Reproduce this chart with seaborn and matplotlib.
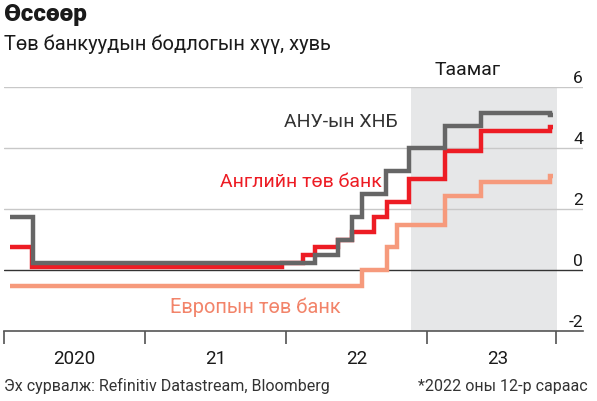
import pandas as pd
import matplotlib
matplotlib.use("Agg")
import matplotlib.pyplot as plt
import seaborn as sns

# Fed, Bank of England and ECB policy rates (steps)
fed_dates = ["2020-01-16", "2020-03-16", "2022-03-17", "2022-05-15", "2022-06-21",
             "2022-07-16", "2022-09-16", "2022-11-15", "2023-02-16", "2023-05-20",
             "2023-11-14", "2023-11-23"]
fed_rates = [1.75, 0.25, 0.5, 1.0, 1.75, 2.5, 3.25, 4.0, 4.72, 5.17, 5.1, 5.1]

boe_dates = ["2020-01-16", "2020-03-13", "2021-12-20", "2022-02-14", "2022-03-17",
             "2022-05-15", "2022-06-21", "2022-08-16", "2022-09-19", "2022-11-15",
             "2023-02-16", "2023-05-20", "2023-11-14", "2023-11-23"]
boe_rates = [0.75, 0.1, 0.25, 0.5, 0.75, 1.0, 1.25, 1.75, 2.25, 3.0, 3.9, 4.56, 4.7, 4.7]

ecb_dates = ["2020-01-16", "2022-07-16", "2022-09-19", "2022-10-15", "2023-02-16",
             "2023-05-20", "2023-11-14", "2023-11-23"]
ecb_rates = [-0.5, 0.0, 0.75, 1.5, 2.42, 2.9, 3.1, 3.1]

banks = ["Европын төв банк", "Английн төв банк", "АНУ-ын ХНБ"]
colors = {"АНУ-ын ХНБ": "#666666", "Английн төв банк": "#ed1c24", "Европын төв банк": "#f69a7c"}

year_labels = ["2020", "21", "22", "23"]
year_ticks = ["2020-01-01", "2021-01-01", "2022-01-01", "2023-01-01", "2023-12-01"]
y_labels = [6, 4, 2, 0, -2]
forecast_start, forecast_end = "2022-11-19", "2023-12-02"

rows = []
for name, dates, rates in [("АНУ-ын ХНБ", fed_dates, fed_rates),
                           ("Английн төв банк", boe_dates, boe_rates),
                           ("Европын төв банк", ecb_dates, ecb_rates)]:
    for d, r in zip(dates, rates):
        rows.append({"date": pd.Timestamp(d), "rate": r, "bank": name})
df = pd.DataFrame(rows)

sns.set_style("white")
plt.rcParams["font.family"] = ["Roboto", "DejaVu Sans"]

fig = plt.figure(figsize=(5.97, 4.02), dpi=100)
ax = fig.add_axes([4 / 597, 1 - 332.3 / 402, 579 / 597, 244 / 402])

# forecast shading, grid, zero line
ax.axvspan(pd.Timestamp(forecast_start), pd.Timestamp(forecast_end), color="#e6e7e8", lw=0, zorder=0)
for v in [2, 4, 6]:
    ax.axhline(v, color="#c8c8c8", lw=1, zorder=1)
ax.axhline(0, color="#333333", lw=1, zorder=1.5)

sns.lineplot(data=df, x="date", y="rate", hue="bank", hue_order=banks, palette=colors,
             linewidth=3.2, drawstyle="steps-post", legend=False, ax=ax, zorder=3,
             solid_capstyle="butt", solid_joinstyle="miter")

ax.set_xlim(pd.Timestamp("2020-01-01"), pd.Timestamp("2024-02-08"))
ax.set_ylim(-2, 6)
ax.set_xlabel("")
ax.set_ylabel("")
ax.set_yticks([])

ax.set_xticks([pd.Timestamp(t) for t in year_ticks])
ax.set_xticklabels([])
mids = [pd.Timestamp(f"20{y[-2:]}-07-02") for y in year_labels]
ax.set_xticks(mids, minor=True)
ax.set_xticklabels(year_labels, minor=True)
ax.tick_params(axis="x", which="major", direction="out", length=9.5, width=1.1,
               color="#444444", bottom=True)
ax.tick_params(axis="x", which="minor", length=0, pad=12.5, labelsize=13.5,
               labelcolor="#1a1a1a")

for s in ["top", "right", "left"]:
    ax.spines[s].set_visible(False)
ax.spines["bottom"].set_color("#555555")
ax.spines["bottom"].set_linewidth(1.2)

for v in y_labels:
    ax.annotate(str(v), xy=(1, v), xycoords=("axes fraction", "data"),
                xytext=(0, 3.5), textcoords="offset points",
                ha="right", va="baseline", fontsize=12.5, color="#1a1a1a")

# series labels
ax.text(pd.Timestamp("2022-10-17"), 4.73, "АНУ-ын ХНБ", ha="right", va="baseline",
        fontsize=14, color="#333333")
ax.text(pd.Timestamp("2022-09-05"), 2.76, "Английн төв банк", ha="right", va="baseline",
        fontsize=14, color="#ed1c24")
ax.text(pd.Timestamp("2021-03-06"), -1.38, "Европын төв банк", ha="left", va="baseline",
        fontsize=14.4, color="#f2846a")

fig.text(467.5 / 597, 1 - 75 / 402, "Таамаг", ha="center", va="baseline",
         fontsize=14, color="#1a1a1a")

fig.text(4 / 597, 1 - 20.5 / 402, "Өссөөр", ha="left", va="baseline",
         fontsize=17.5, fontweight="heavy", color="#1a1a1a")
fig.text(4 / 597, 1 - 50 / 402, "Төв банкуудын бодлогын хүү, хувь", ha="left",
         va="baseline", fontsize=14.5, color="#1a1a1a")
fig.text(4 / 597, 1 - 391.5 / 402, "Эх сурвалж: Refinitiv Datastream, Bloomberg",
         ha="left", va="baseline", fontsize=11.5, color="#333333")
fig.text(588 / 597, 1 - 391.5 / 402, "*2022 оны 12-р сараас",
         ha="right", va="baseline", fontsize=11.5, color="#333333")

fig.savefig("out.png", dpi=100, facecolor="white")
